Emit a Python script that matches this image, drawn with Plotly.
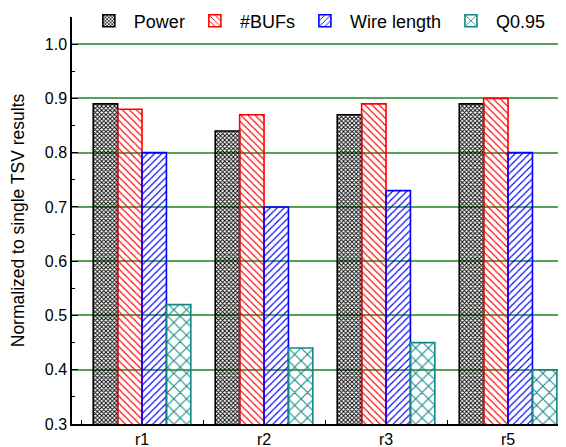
import plotly.graph_objects as go

categories = ["r1", "r2", "r3", "r5"]
power = [0.89, 0.84, 0.87, 0.89]
bufs = [0.88, 0.87, 0.89, 0.90]
wire = [0.80, 0.70, 0.73, 0.80]
q95 = [0.52, 0.44, 0.45, 0.40]

series = [
    ("Power", power, "#000000", "x", 3, 0.5),
    ("#BUFs", bufs, "#ff0000", "\\", 5, 0.22),
    ("Wire length", wire, "#0000ff", "/", 5, 0.22),
    ("Q0.95", q95, "#128888", "x", 9, 0.22),
]

fig = go.Figure()
for name, vals, col, shp, sz, sol in series:
    fig.add_trace(go.Bar(
        x=categories, y=vals, name=name,
        marker=dict(color=col,
                    line=dict(color=col, width=1.6),
                    pattern=dict(shape=shp, size=sz, solidity=sol,
                                 fgcolor=col, fillmode="replace")),
    ))

fig.update_layout(
    width=558, height=439,
    margin=dict(l=64, r=0, t=9, b=23, autoexpand=False),
    paper_bgcolor="white", plot_bgcolor="white",
    font=dict(family="Liberation Sans, Arial", size=16, color="black"),
    barmode="group", bargap=0.2, bargroupgap=0,
    showlegend=True,
    legend=dict(orientation="h", x=0.024, y=0.99, xanchor="left", yanchor="middle",
                bgcolor="rgba(0,0,0,0)", font=dict(size=18), itemwidth=40,
                traceorder="normal"),
    xaxis=dict(type="category", range=[-0.574, 3.475], tickson="boundaries",
               ticks="inside", ticklen=4, tickcolor="black",
               showline=True, linecolor="black", linewidth=1.5,
               showgrid=False, tickfont=dict(size=16)),
    yaxis=dict(range=[0.3, 1.05], dtick=0.1, tick0=0.3, tickformat=".1f",
               ticks="inside", ticklen=6, tickcolor="black",
               showline=True, linecolor="black", linewidth=1.5,
               showgrid=True, gridcolor="#56a356", gridwidth=1.5,
               minor=dict(dtick=0.05, ticks="inside", ticklen=3, tickcolor="black", showgrid=False),
               zeroline=False,
               title=dict(text="Normalized to single TSV results", font=dict(size=17.5), standoff=16),
               tickfont=dict(size=16)),
)

fig.write_html("out.html")
